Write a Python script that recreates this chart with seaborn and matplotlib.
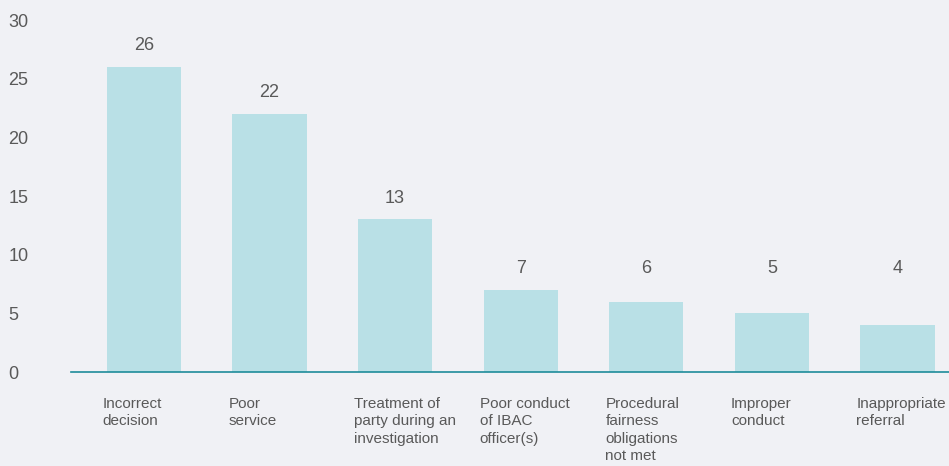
import matplotlib
matplotlib.use("Agg")
import matplotlib.pyplot as plt
import matplotlib.transforms as mtransforms
import seaborn as sns
import pandas as pd

# Complaint categories and counts
categories = [
    "Incorrect\ndecision",
    "Poor\nservice",
    "Treatment of\nparty during an\ninvestigation",
    "Poor conduct\nof IBAC\nofficer(s)",
    "Procedural\nfairness\nobligations\nnot met",
    "Improper\nconduct",
    "Inappropriate\nreferral",
]
counts = [26, 22, 13, 7, 6, 5, 4]
y_ticks = [0, 5, 10, 15, 20, 25, 30]

BG = "#f0f1f5"
BAR = "#b9e0e6"
AXIS = "#1e8c9a"
TEXT = "#595959"

sns.set_theme(style="white")
plt.rcParams["font.family"] = ["Liberation Sans", "DejaVu Sans"]

df = pd.DataFrame({"category": categories, "count": counts})

fig = plt.figure(figsize=(9.49, 4.66), dpi=100, facecolor=BG)
ax = fig.add_axes([0.0748, 0.2017, 0.9252, 0.7553])
ax.set_facecolor(BG)

sns.barplot(data=df, x="category", y="count", color=BAR, saturation=1,
            width=0.59, linewidth=0, edgecolor=BAR, ax=ax)

ax.set_xlim(-0.58, 6.41)
ax.set_ylim(0, 30)
ax.set_yticks(y_ticks)
ax.set_xlabel("")
ax.set_ylabel("")

for side in ["top", "right", "left"]:
    ax.spines[side].set_visible(False)
ax.spines["bottom"].set_color(AXIS)
ax.spines["bottom"].set_linewidth(1.2)
ax.spines["bottom"].set_zorder(5)

ax.tick_params(axis="y", length=0, pad=45, labelsize=13, labelcolor=TEXT)
for lbl in ax.get_yticklabels():
    lbl.set_horizontalalignment("left")

ax.tick_params(axis="x", length=0, pad=18, labelsize=11, labelcolor=TEXT)
shift = mtransforms.ScaledTranslation(-41 / 100, 0, fig.dpi_scale_trans)
for lbl in ax.get_xticklabels():
    lbl.set_horizontalalignment("left")
    lbl.set_verticalalignment("top")
    lbl.set_linespacing(1.3)
    lbl.set_transform(lbl.get_transform() + shift)

# value labels above bars; short bars share a common label height
label_floor = 7
for i, v in enumerate(counts):
    ax.annotate(str(v), xy=(i, max(v, label_floor)), xytext=(0, 9),
                textcoords="offset points", ha="center", va="bottom",
                fontsize=13, color=TEXT)

fig.savefig("out.png", dpi=100, facecolor=BG)
